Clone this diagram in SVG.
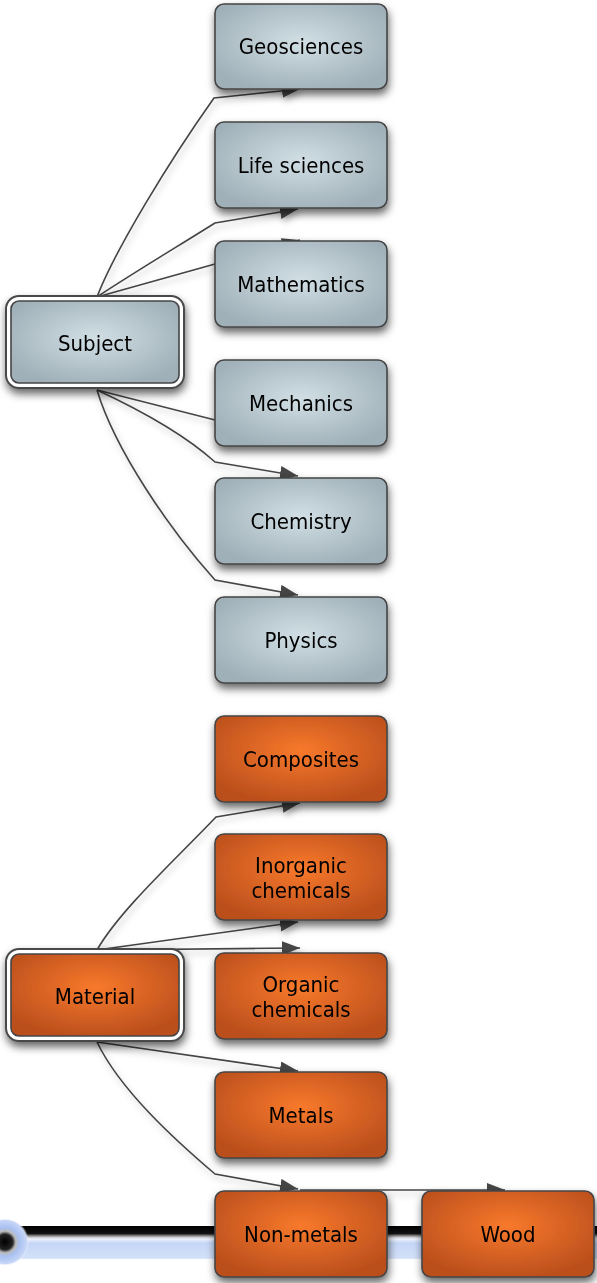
<svg xmlns="http://www.w3.org/2000/svg" width="597" height="1283" viewBox="0 0 597 1283">
<defs>
<style>
.node rect.b{stroke:#454545;stroke-width:1.6}
.grey{fill:url(#gGrey)}
.orange{fill:url(#gOrange)}
.frame{fill:#fff;stroke:#4a4a4a;stroke-width:2}
.lbl{font-family:"DejaVu Sans Condensed","DejaVu Sans",sans-serif;font-stretch:condensed;font-size:22px;fill:#000;text-anchor:middle}
.edge{fill:none;stroke:#444;stroke-width:1.6}
</style>
<radialGradient id="gGrey" cx="0.5" cy="0.45" r="0.6">
<stop offset="0" stop-color="#d1dfe5"/>
<stop offset="1" stop-color="#a0b0b8"/>
</radialGradient>
<radialGradient id="gOrange" cx="0.5" cy="0.4" r="0.62">
<stop offset="0" stop-color="#f8792b"/>
<stop offset="1" stop-color="#bb4f1d"/>
</radialGradient>
<linearGradient id="gBar" x1="0" y1="0" x2="0" y2="1">
<stop offset="0" stop-color="#000"/>
<stop offset="0.22" stop-color="#111"/>
<stop offset="0.32" stop-color="#bbb"/>
<stop offset="0.38" stop-color="#eef2fb"/>
<stop offset="0.5" stop-color="#c5d6f6"/>
<stop offset="0.95" stop-color="#d3e0f8"/>
<stop offset="1" stop-color="#fff" stop-opacity="0"/>
</linearGradient>
<radialGradient id="gKnob" cx="0.5" cy="0.5" r="0.5">
<stop offset="0" stop-color="#000"/>
<stop offset="0.32" stop-color="#222"/>
<stop offset="0.45" stop-color="#bbb"/>
<stop offset="0.6" stop-color="#a9c0f2"/>
<stop offset="0.9" stop-color="#c6d6f6"/>
<stop offset="1" stop-color="#fff" stop-opacity="0"/>
</radialGradient>
<filter id="sh" x="-20%" y="-20%" width="140%" height="150%">
<feDropShadow dx="1" dy="5" stdDeviation="4" flood-color="#000" flood-opacity="0.6"/>
</filter>
<filter id="shl" x="-20%" y="-20%" width="140%" height="140%">
<feDropShadow dx="2" dy="4" stdDeviation="3" flood-color="#000" flood-opacity="0.25"/>
</filter>
<marker id="arr" markerUnits="userSpaceOnUse" markerWidth="20" markerHeight="16" refX="18" refY="7" orient="auto">
<path d="M0,0 L18,7 L0,14 Z" fill="#444"/>
</marker>
</defs>
<rect width="597" height="1283" fill="#fff"/>

<g id="bar">
<rect x="0" y="1226" width="597" height="34" fill="url(#gBar)"/>
<circle cx="5" cy="1242" r="24" fill="url(#gKnob)"/>
</g>

<g id="connectors" filter="url(#shl)">
<path class="edge" marker-end="url(#arr)" d="M97,297 C115,250 170,160 214,98 L300,89"/>
<path class="edge" marker-end="url(#arr)" d="M97,297 C130,275 180,245 215,223 L298,209"/>
<path class="edge" marker-end="url(#arr)" d="M97,297 L215,264 L300,240"/>
<path class="edge" d="M97,390 L215,420 L280,420"/>
<path class="edge" marker-end="url(#arr)" d="M97,390 C140,410 185,435 215,462 L298,476"/>
<path class="edge" marker-end="url(#arr)" d="M97,390 C115,450 170,530 215,580 L298,595"/>
<path class="edge" marker-end="url(#arr)" d="M97,950 C120,910 175,860 216,817 L300,803"/>
<path class="edge" marker-end="url(#arr)" d="M97,950 L298,922"/>
<path class="edge" marker-end="url(#arr)" d="M97,950 L300,948"/>
<path class="edge" marker-end="url(#arr)" d="M97,1042 L298,1071"/>
<path class="edge" marker-end="url(#arr)" d="M97,1042 C120,1090 175,1140 215,1174 L298,1189"/>
<path class="edge" marker-end="url(#arr)" d="M300,1190 L505,1190"/>
</g>

<g id="subject" class="node" filter="url(#sh)">
<rect class="frame" x="6" y="296" width="178" height="92" rx="13"/>
<rect class="b grey" x="11" y="301" width="168" height="82" rx="8"/>
<text class="lbl" x="95" y="351">Subject</text>
</g>
<g id="geosciences" class="node" filter="url(#sh)">
<rect class="b grey" x="215" y="4" width="172" height="85" rx="9"/>
<text class="lbl" x="301" y="54">Geosciences</text>
</g>
<g id="lifesciences" class="node" filter="url(#sh)">
<rect class="b grey" x="215" y="122" width="172" height="86" rx="9"/>
<text class="lbl" x="301" y="173">Life sciences</text>
</g>
<g id="mathematics" class="node" filter="url(#sh)">
<rect class="b grey" x="215" y="241" width="172" height="86" rx="9"/>
<text class="lbl" x="301" y="292">Mathematics</text>
</g>
<g id="mechanics" class="node" filter="url(#sh)">
<rect class="b grey" x="215" y="360" width="172" height="86" rx="9"/>
<text class="lbl" x="301" y="411">Mechanics</text>
</g>
<g id="chemistry" class="node" filter="url(#sh)">
<rect class="b grey" x="215" y="478" width="172" height="86" rx="9"/>
<text class="lbl" x="301" y="529">Chemistry</text>
</g>
<g id="physics" class="node" filter="url(#sh)">
<rect class="b grey" x="215" y="597" width="172" height="86" rx="9"/>
<text class="lbl" x="301" y="648">Physics</text>
</g>

<g id="material" class="node" filter="url(#sh)">
<rect class="frame" x="6" y="949" width="178" height="92" rx="13"/>
<rect class="b orange" x="11" y="954" width="168" height="82" rx="8"/>
<text class="lbl" x="95" y="1004">Material</text>
</g>
<g id="composites" class="node" filter="url(#sh)">
<rect class="b orange" x="215" y="716" width="172" height="86" rx="9"/>
<text class="lbl" x="301" y="767">Composites</text>
</g>
<g id="inorganic" class="node" filter="url(#sh)">
<rect class="b orange" x="215" y="834" width="172" height="86" rx="9"/>
<text class="lbl" x="301" y="873">Inorganic</text>
<text class="lbl" x="301" y="898">chemicals</text>
</g>
<g id="organic" class="node" filter="url(#sh)">
<rect class="b orange" x="215" y="953" width="172" height="86" rx="9"/>
<text class="lbl" x="301" y="992">Organic</text>
<text class="lbl" x="301" y="1017">chemicals</text>
</g>
<g id="metals" class="node" filter="url(#sh)">
<rect class="b orange" x="215" y="1072" width="172" height="86" rx="9"/>
<text class="lbl" x="301" y="1123">Metals</text>
</g>
<g id="nonmetals" class="node" filter="url(#sh)">
<rect class="b orange" x="215" y="1191" width="172" height="86" rx="9"/>
<text class="lbl" x="301" y="1242">Non-metals</text>
</g>
<g id="wood" class="node" filter="url(#sh)">
<rect class="b orange" x="422" y="1191" width="172" height="86" rx="9"/>
<text class="lbl" x="508" y="1242">Wood</text>
</g>
</svg>
